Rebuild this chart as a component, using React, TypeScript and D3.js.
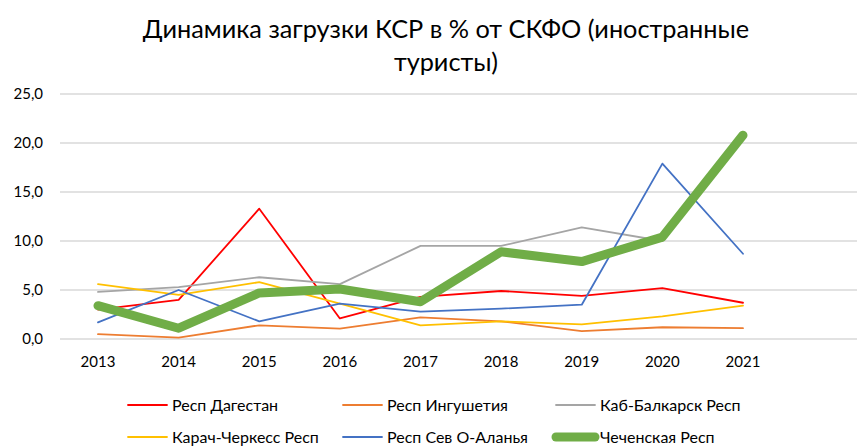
import React from "react";
import * as d3 from "d3";

const years = ["2013", "2014", "2015", "2016", "2017", "2018", "2019", "2020", "2021"];
const dagestan = [3.0, 4.0, 13.3, 2.1, 4.3, 4.9, 4.4, 5.2, 3.7];
const ingushetia = [0.5, 0.15, 1.4, 1.05, 2.2, 1.8, 0.8, 1.2, 1.1];
const kabBalk: (number | null)[] = [4.8, 5.3, 6.3, 5.6, 9.5, 9.5, 11.4, 10.0, null];
const karach = [5.6, 4.5, 5.8, 3.6, 1.4, 1.8, 1.5, 2.3, 3.4];
const sevOsetia = [1.7, 5.0, 1.8, 3.6, 2.8, 3.1, 3.5, 17.9, 8.7];
const chechnya = [3.4, 1.1, 4.7, 5.1, 3.8, 8.9, 7.9, 10.4, 20.8];
const yTicks = [0, 5, 10, 15, 20, 25];

const series = [
  { name: "Респ Дагестан", values: dagestan, color: "#FF0000", width: 1.8 },
  { name: "Респ Ингушетия", values: ingushetia, color: "#ED7D31", width: 1.8 },
  { name: "Каб-Балкарск Респ", values: kabBalk, color: "#A5A5A5", width: 1.8 },
  { name: "Карач-Черкесс Респ", values: karach, color: "#FFC000", width: 1.8 },
  { name: "Респ Сев О-Аланья", values: sevOsetia, color: "#4472C4", width: 1.8 },
  { name: "Чеченская Респ", values: chechnya, color: "#70AD47", width: 9 },
];

const W = 857;
const H = 448;
const FONT = "Lato, 'Open Sans', sans-serif";

export default function App() {
  const x = d3.scalePoint<string>().domain(years).range([98, 743]);
  const y = d3.scaleLinear().domain([0, 25]).range([339, 94]);
  const line = d3
    .line<number | null>()
    .defined((d) => d !== null)
    .x((_, i) => x(years[i]) as number)
    .y((d) => y(d as number));

  const legendPos = [
    [128, 405],
    [343, 405],
    [556, 405],
    [128, 437],
    [343, 437],
    [556, 437],
  ];

  return (
    <svg width={W} height={H} style={{ position: "absolute", left: 0, top: 0, background: "#fff" }}>
      <rect width={W} height={H} fill="#fff" />
      <text x={446} y={38} textAnchor="middle" fontFamily={FONT} fontSize={25.3} fill="#000">
        Динамика загрузки КСР в % от СКФО (иностранные
      </text>
      <text x={446} y={71} textAnchor="middle" fontFamily={FONT} fontSize={25.3} fill="#000">
        туристы)
      </text>
      {yTicks.map((t) => (
        <g key={t}>
          <line x1={60} x2={W} y1={y(t)} y2={y(t)} stroke="#D9D9D9" strokeWidth={1.5} />
          <text x={43} y={y(t) + 5} textAnchor="end" fontFamily={FONT} fontSize={15} fill="#000">
            {d3.format(".1f")(t).replace(".", ",")}
          </text>
        </g>
      ))}
      {years.map((yr) => (
        <text key={yr} x={x(yr)} y={367} textAnchor="middle" fontFamily={FONT} fontSize={15} fill="#000">
          {yr}
        </text>
      ))}
      {series.map((s) => (
        <path
          key={s.name}
          d={line(s.values) || ""}
          fill="none"
          stroke={s.color}
          strokeWidth={s.width}
          strokeLinejoin="round"
          strokeLinecap="round"
        />
      ))}
      {series.map((s, i) => {
        const [lx, ly] = legendPos[i];
        return (
          <g key={s.name}>
            <line
              x1={lx}
              x2={lx + 39}
              y1={ly}
              y2={ly}
              stroke={s.color}
              strokeWidth={s.width}
              strokeLinecap="round"
            />
            <text x={lx + 44} y={ly + 5.5} fontFamily={FONT} fontSize={16} fill="#000">
              {s.name}
            </text>
          </g>
        );
      })}
    </svg>
  );
}
